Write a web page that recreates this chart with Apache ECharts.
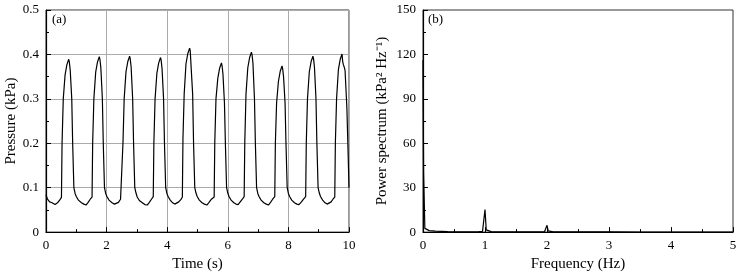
<!DOCTYPE html>
<html><head><meta charset="utf-8">
<script src="https://cdn.jsdelivr.net/npm/echarts@6/dist/echarts.min.js"></script>
<style>html,body{margin:0;padding:0;background:#fff}#c{width:745px;height:277px}</style>
</head><body><div id="c"></div>
<script>
// (a) pressure time series
const timeS = [
 0.00,0.05,0.12,0.20,0.30,0.38,0.45,
 0.51,0.53,0.57,0.63,0.69,0.75,0.77,0.80,0.85,0.88,0.92,0.96,1.00,1.07,1.17,1.25,1.32,1.39,1.46,
 1.52,1.54,1.58,1.64,1.70,1.76,1.78,1.81,1.86,1.89,1.93,1.97,2.01,2.08,2.18,2.26,2.32,2.39,2.46,
 2.52,2.54,2.58,2.64,2.70,2.76,2.78,2.81,2.86,2.89,2.93,2.97,3.01,3.08,3.18,3.26,3.34,3.41,3.48,
 3.54,3.56,3.60,3.66,3.72,3.78,3.80,3.83,3.88,3.91,3.95,3.99,4.03,4.10,4.18,4.25,4.31,4.38,4.45,
 4.50,4.52,4.56,4.62,4.68,4.74,4.76,4.78,4.84,4.87,4.91,4.95,4.99,5.06,5.15,5.23,5.31,5.38,5.46,
 5.55,5.57,5.61,5.67,5.73,5.79,5.81,5.84,5.89,5.92,5.96,6.00,6.04,6.11,6.20,6.27,6.34,6.41,6.48,
 6.54,6.56,6.60,6.66,6.72,6.78,6.80,6.83,6.88,6.91,6.95,6.99,7.03,7.10,7.19,7.27,7.34,7.41,7.48,
 7.55,7.57,7.61,7.67,7.73,7.79,7.81,7.84,7.89,7.92,7.96,8.00,8.04,8.11,8.20,8.28,8.35,8.43,8.50,
 8.57,8.59,8.63,8.69,8.75,8.81,8.83,8.86,8.91,8.94,8.98,9.02,9.06,9.13,9.21,9.28,9.34,9.41,9.47,
 9.53,9.55,9.59,9.65,9.71,9.77,9.79,9.81,9.84,9.87,9.93,9.97,10.00
];
const pressureKPa = [
 0.084,0.074,0.068,0.066,0.062,0.066,0.072,
 0.078,0.200,0.300,0.354,0.377,0.389,0.383,0.364,0.300,0.200,0.100,0.087,0.080,0.072,0.066,0.063,0.061,0.067,0.074,
 0.079,0.200,0.300,0.360,0.383,0.395,0.389,0.370,0.300,0.200,0.100,0.087,0.080,0.072,0.066,0.063,0.061,0.067,0.074,
 0.078,0.200,0.300,0.361,0.384,0.396,0.390,0.371,0.300,0.200,0.100,0.088,0.079,0.071,0.066,0.062,0.061,0.067,0.074,
 0.080,0.200,0.300,0.358,0.381,0.393,0.387,0.368,0.300,0.200,0.100,0.087,0.080,0.072,0.066,0.063,0.062,0.068,0.073,
 0.079,0.210,0.310,0.379,0.402,0.414,0.408,0.406,0.310,0.200,0.100,0.088,0.080,0.072,0.066,0.063,0.061,0.067,0.074,
 0.079,0.200,0.300,0.346,0.369,0.381,0.375,0.356,0.290,0.200,0.100,0.088,0.080,0.072,0.066,0.063,0.062,0.068,0.074,
 0.080,0.200,0.310,0.370,0.393,0.405,0.399,0.380,0.300,0.200,0.100,0.087,0.080,0.072,0.066,0.063,0.061,0.067,0.074,
 0.080,0.200,0.290,0.339,0.362,0.374,0.368,0.350,0.290,0.200,0.100,0.087,0.080,0.072,0.066,0.063,0.062,0.068,0.074,
 0.080,0.200,0.300,0.361,0.384,0.396,0.390,0.371,0.300,0.200,0.100,0.088,0.080,0.072,0.066,0.063,0.062,0.068,0.074,
 0.079,0.200,0.300,0.366,0.389,0.401,0.385,0.378,0.372,0.364,0.280,0.180,0.100
];
// (b) power spectrum
const freqHz = [0,0.01,0.03,0.06,0.1,0.2,0.4,0.6,0.8,0.9,0.96,0.98,1.0,1.02,1.04,1.1,1.2,1.5,1.8,1.96,1.98,2.0,2.02,2.04,2.1,2.5,2.98,3.0,3.02,3.5,4.0,4.5,5.0];
const powerSpec = [116,40,2.5,1.5,1.0,0.6,0.3,0.2,0.2,0.3,0.5,1.5,15.3,1.5,0.5,0.3,0.2,0.1,0.1,0.2,0.8,4.6,0.8,0.2,0.1,0.1,0.1,0.6,0.1,0.05,0.05,0.05,0.05];

const timeTicks = [0,2,4,6,8,10];
const pressureTicks = [0,0.1,0.2,0.3,0.4,0.5];
const freqTicks = [0,1,2,3,4,5];
const powerTicks = [0,30,60,90,120,150];

const FONT = 'Liberation Serif';
const lab = {fontFamily: FONT, fontSize: 13, color: '#000'};
const nameStyle = {fontFamily: FONT, fontSize: 15, color: '#000'};

function baseAxis(extra) {
  return Object.assign({
    type: 'value',
    axisLine: {show: true, onZero: false, lineStyle: {color: '#000', width: 1.2}},
    axisTick: {show: true, inside: true, length: 5, lineStyle: {color: '#000'}},
    minorTick: {show: true, splitNumber: 2, length: 3, lineStyle: {color: '#000'}},
    axisLabel: Object.assign({margin: 7}, lab),
    nameTextStyle: nameStyle,
    nameLocation: 'middle'
  }, extra);
}

const chart = echarts.init(document.getElementById('c'), null, {renderer: 'canvas'});
chart.setOption({
  animation: false,
  backgroundColor: '#fff',
  grid: [
    {left: 46, top: 10, width: 303, height: 226, show: true, borderColor: '#333', borderWidth: 1, backgroundColor: 'transparent'},
    {left: 423, top: 10, width: 310, height: 226, show: true, borderColor: '#333', borderWidth: 1, backgroundColor: 'transparent'}
  ],
  xAxis: [
    baseAxis({gridIndex: 0, min: timeTicks[0], max: timeTicks[timeTicks.length-1], interval: timeTicks[1]-timeTicks[0],
      name: 'Time (s)', nameGap: 22,
      splitLine: {show: true, lineStyle: {color: '#aaa', width: 1}}}),
    baseAxis({gridIndex: 1, min: freqTicks[0], max: freqTicks[freqTicks.length-1], interval: freqTicks[1]-freqTicks[0],
      name: 'Frequency (Hz)', nameGap: 22,
      splitLine: {show: false}})
  ],
  yAxis: [
    baseAxis({gridIndex: 0, min: pressureTicks[0], max: pressureTicks[pressureTicks.length-1], interval: 0.1,
      name: 'Pressure (kPa)', nameGap: 27,
      axisLabel: Object.assign({margin: 7, formatter: v => v === 0 ? '0' : v.toFixed(1)}, lab),
      splitLine: {show: true, lineStyle: {color: '#aaa', width: 1}}}),
    baseAxis({gridIndex: 1, min: powerTicks[0], max: powerTicks[powerTicks.length-1], interval: powerTicks[1]-powerTicks[0],
      name: 'Power spectrum (kPa² Hz⁻¹)', nameGap: 33,
      splitLine: {show: false}})
  ],
  series: [
    {type: 'line', xAxisIndex: 0, yAxisIndex: 0, showSymbol: false, symbol: 'none',
     lineStyle: {color: '#000', width: 1.2}, data: timeS.map((t, i) => [t, pressureKPa[i]])},
    {type: 'line', xAxisIndex: 1, yAxisIndex: 1, showSymbol: false, symbol: 'none',
     lineStyle: {color: '#000', width: 1.2}, data: freqHz.map((f, i) => [f, powerSpec[i]])}
  ],
  graphic: [
    {type: 'text', left: 52, top: 13, style: {text: '(a)', font: '13px "Liberation Serif"', fill: '#000'}},
    {type: 'text', left: 428, top: 13, style: {text: '(b)', font: '13px "Liberation Serif"', fill: '#000'}}
  ]
});
</script></body></html>
